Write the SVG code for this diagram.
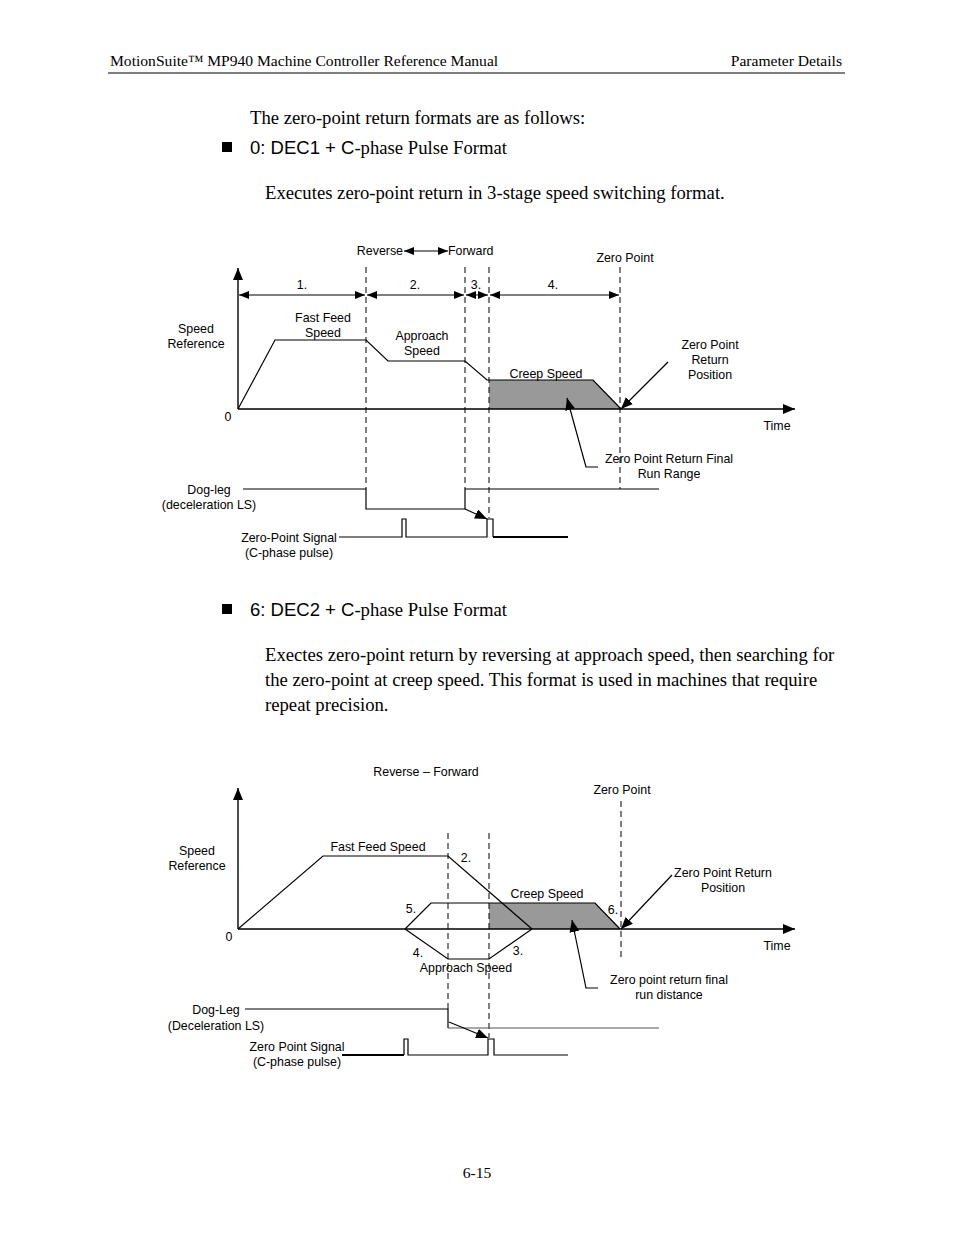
<svg xmlns="http://www.w3.org/2000/svg" width="954" height="1235" viewBox="0 0 954 1235">
<style>
.serif{font-family:"Liberation Serif","Times New Roman",serif;fill:#000}
.hd{font-size:15.6px}
.body{font-size:18.7px}
.sans{font-family:"Liberation Sans",Arial,sans-serif;fill:#000}
.lb{font-family:"Liberation Sans",Arial,sans-serif;font-size:12.4px;fill:#000}
.c{text-anchor:middle}
.e{text-anchor:end}
.ln{stroke:#000;stroke-width:1.2;fill:none}
.dash{stroke:#000;stroke-width:1;stroke-dasharray:6,4;fill:none}
.dim{stroke:#000;stroke-width:1;fill:none;marker-start:url(#sa);marker-end:url(#sa)}
.ptr{stroke:#000;stroke-width:1.2;fill:none;marker-end:url(#pa)}
.ax{stroke:#000;stroke-width:1.4;fill:none;marker-end:url(#axa)}
.fill{fill:#999;stroke:none}
</style>
<defs>
<marker id="sa" viewBox="0 0 10 8" refX="10" refY="4" markerWidth="10" markerHeight="8" markerUnits="userSpaceOnUse" orient="auto-start-reverse"><path d="M0,0 L10,4 L0,8 z" fill="#000"/></marker>
<marker id="pa" viewBox="0 0 12 10" refX="12" refY="5" markerWidth="12" markerHeight="10" markerUnits="userSpaceOnUse" orient="auto"><path d="M0,0 L12,5 L0,10 z" fill="#000"/></marker>
<marker id="axa" viewBox="0 0 12 10" refX="12" refY="5" markerWidth="12" markerHeight="10" markerUnits="userSpaceOnUse" orient="auto"><path d="M0,0 L12,5 L0,10 z" fill="#000"/></marker>
</defs>
<rect width="954" height="1235" fill="#fff"/>

<g id="header">
<text class="serif hd" x="110" y="66">MotionSuite™ MP940 Machine Controller Reference Manual</text>
<text class="serif hd e" x="842" y="66">Parameter Details</text>
<line x1="108" y1="73" x2="845" y2="73" stroke="#000" stroke-width="1.2"/>
</g>

<g id="intro">
<text class="serif body" x="250" y="124">The zero-point return formats are as follows:</text>
<rect x="222" y="142" width="10" height="10" fill="#000"/>
<text class="body" x="250" y="154"><tspan class="sans" font-size="18.5">0: DEC1 + C</tspan><tspan class="serif">-phase Pulse Format</tspan></text>
<text class="serif body" x="265" y="199">Executes zero-point return in 3-stage speed switching format.</text>
</g>

<!-- ===== Diagram 1 ===== -->
<g id="d1-fill"><polygon class="fill" points="489,380 593,380 621,409 489,409"/></g>
<g id="d1-axes">
<line class="ax" x1="238" y1="409" x2="238" y2="268"/>
<line class="ax" x1="238" y1="409" x2="795" y2="409"/>
<text class="lb c" x="196" y="333">Speed</text>
<text class="lb c" x="196" y="348">Reference</text>
<text class="lb c" x="228" y="421">0</text>
<text class="lb c" x="777" y="430">Time</text>
</g>
<g id="d1-profile">
<polyline class="ln" points="238,409 275,340 366,340 388,361 465,361 487,380 593,380 621,409"/>
<text class="lb c" x="323" y="322">Fast Feed</text>
<text class="lb c" x="323" y="337">Speed</text>
<text class="lb c" x="422" y="340">Approach</text>
<text class="lb c" x="422" y="355">Speed</text>
<text class="lb c" x="546" y="378">Creep Speed</text>
</g>
<g id="d1-guides">
<line class="dash" x1="366" y1="267" x2="366" y2="489"/>
<line class="dash" x1="465" y1="267" x2="465" y2="489"/>
<line class="dash" x1="489" y1="267" x2="489" y2="518"/>
<line class="dash" x1="620" y1="267" x2="620" y2="489"/>
<text class="lb c" x="625" y="262">Zero Point</text>
</g>
<g id="d1-dims">
<line class="dim" x1="239" y1="295" x2="365" y2="295"/>
<line class="dim" x1="367" y1="295" x2="464" y2="295"/>
<line class="dim" x1="466" y1="295" x2="488" y2="295"/>
<line class="dim" x1="490" y1="295" x2="619" y2="295"/>
<text class="lb c" x="302" y="289">1.</text>
<text class="lb c" x="415" y="289">2.</text>
<text class="lb c" x="476" y="289">3.</text>
<text class="lb c" x="553" y="289">4.</text>
<text class="lb e" x="403" y="255">Reverse</text>
<line class="dim" x1="404" y1="251" x2="448" y2="251"/>
<text class="lb" x="448" y="255">Forward</text>
</g>
<g id="d1-zrp">
<line class="ptr" x1="668" y1="362" x2="621" y2="409"/>
<text class="lb c" x="710" y="349">Zero Point</text>
<text class="lb c" x="710" y="364">Return</text>
<text class="lb c" x="710" y="379">Position</text>
</g>
<g id="d1-range">
<polyline class="ptr" points="598,467 586,467 567,398"/>
<text class="lb c" x="669" y="463">Zero Point Return Final</text>
<text class="lb c" x="669" y="478">Run Range</text>
</g>
<g id="d1-dog">
<polyline class="ln" points="243,489 366,489 366,509 465,509 465,489 659,489"/>
<line class="ptr" x1="465" y1="509" x2="487" y2="519"/>
<text class="lb c" x="209" y="494">Dog-leg</text>
<text class="lb c" x="209" y="509">(deceleration LS)</text>
</g>
<g id="d1-zsig">
<polyline class="ln" points="339,537 402,537 402,519 406,519 406,537 487,537 487,519 493,519 493,537"/>
<line x1="493" y1="537" x2="568" y2="537" stroke="#000" stroke-width="2"/>
<text class="lb c" x="289" y="542">Zero-Point Signal</text>
<text class="lb c" x="289" y="557">(C-phase pulse)</text>
</g>

<g id="format6">
<rect x="222" y="604" width="10" height="10" fill="#000"/>
<text class="body" x="250" y="616"><tspan class="sans" font-size="18.5">6: DEC2 + C</tspan><tspan class="serif">-phase Pulse Format</tspan></text>
<text class="serif body" x="265" y="661">Exectes zero-point return by reversing at approach speed, then searching for</text>
<text class="serif body" x="265" y="686">the zero-point at creep speed. This format is used in machines that require</text>
<text class="serif body" x="265" y="711">repeat precision.</text>
</g>

<!-- ===== Diagram 2 ===== -->
<g id="d2-fill"><polygon class="fill" points="489,903 595,903 620,929 489,929"/></g>
<g id="d2-axes">
<line class="ax" x1="238" y1="929" x2="238" y2="788"/>
<line class="ax" x1="238" y1="929" x2="795" y2="929"/>
<text class="lb c" x="197" y="855">Speed</text>
<text class="lb c" x="197" y="870">Reference</text>
<text class="lb c" x="229" y="941">0</text>
<text class="lb c" x="777" y="950">Time</text>
</g>
<g id="d2-profile">
<polyline class="ln" points="238,929 323,856 448,856 532,929"/>
<polyline class="ln" points="405,929 431,903 595,903 620,929"/>
<polyline class="ln" points="405,929 448,959 489,959 532,929"/>
<text class="lb c" x="378" y="851">Fast Feed Speed</text>
<text class="lb c" x="466" y="862">2.</text>
<text class="lb c" x="411" y="913">5.</text>
<text class="lb c" x="418" y="957">4.</text>
<text class="lb c" x="518" y="955">3.</text>
<text class="lb c" x="613" y="914">6.</text>
<text class="lb c" x="466" y="972">Approach Speed</text>
<text class="lb c" x="547" y="898">Creep Speed</text>
</g>
<g id="d2-guides">
<line class="dash" x1="448" y1="833" x2="448" y2="1009"/>
<line class="dash" x1="489" y1="833" x2="489" y2="1038"/>
<line class="dash" x1="621" y1="801" x2="621" y2="958"/>
<text class="lb c" x="622" y="794">Zero Point</text>
<text class="lb c" x="426" y="776">Reverse – Forward</text>
</g>
<g id="d2-zrp">
<line class="ptr" x1="672" y1="875" x2="621" y2="929"/>
<text class="lb c" x="723" y="877">Zero Point Return</text>
<text class="lb c" x="723" y="892">Position</text>
</g>
<g id="d2-range">
<polyline class="ptr" points="598,988 586,988 572,920"/>
<text class="lb c" x="669" y="984">Zero point return final</text>
<text class="lb c" x="669" y="999">run distance</text>
</g>
<g id="d2-dog">
<polyline class="ln" points="245,1009 448,1009 448,1028"/>
<line x1="448" y1="1028" x2="659" y2="1028" stroke="#555" stroke-width="1.2"/>
<line class="ptr" x1="449" y1="1022" x2="488" y2="1038"/>
<text class="lb c" x="216" y="1014">Dog-Leg</text>
<text class="lb c" x="216" y="1030">(Deceleration LS)</text>
</g>
<g id="d2-zsig">
<line x1="342" y1="1055" x2="404" y2="1055" stroke="#000" stroke-width="2"/>
<polyline class="ln" points="404,1055 404,1039 408,1039 408,1055 488,1055 488,1039 494,1039 494,1055 568,1055"/>
<text class="lb c" x="297" y="1051">Zero Point Signal</text>
<text class="lb c" x="297" y="1066">(C-phase pulse)</text>
</g>

<g id="footer">
<text class="serif hd c" x="477" y="1178">6-15</text>
</g>
</svg>
